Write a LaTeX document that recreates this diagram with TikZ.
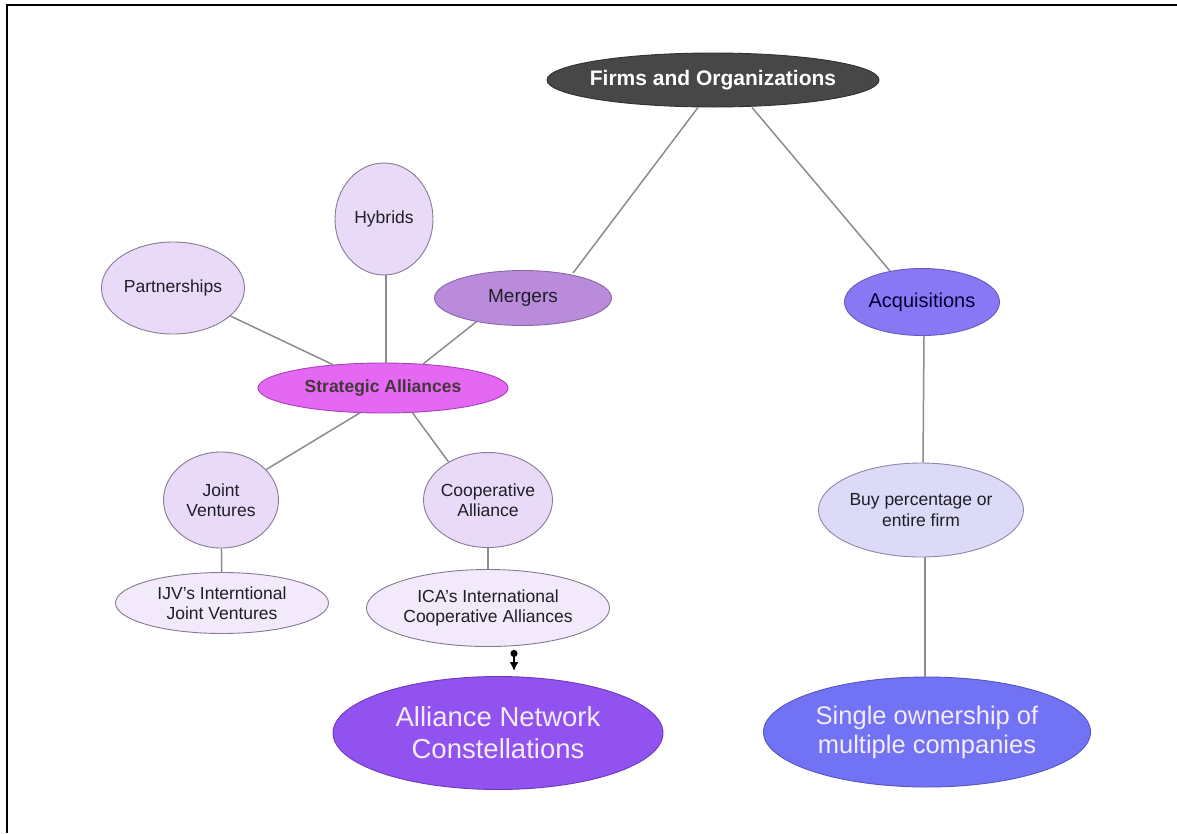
\documentclass[tikz,border=0pt]{standalone}
\usepackage{fontspec}
\setmainfont{Liberation Sans}
\usetikzlibrary{shapes.geometric,arrows.meta}
\definecolor{firmfill}{HTML}{474747}
\definecolor{firmdraw}{HTML}{303030}
\definecolor{lavfill}{HTML}{E9DBF7}
\definecolor{palefill}{HTML}{F2E9FA}
\definecolor{lavdraw}{HTML}{857A92}
\definecolor{mergfill}{HTML}{B98BDA}
\definecolor{mergdraw}{HTML}{8A66A8}
\definecolor{stratfill}{HTML}{E468F2}
\definecolor{stratdraw}{HTML}{A443B4}
\definecolor{acqfill}{HTML}{8878F4}
\definecolor{acqdraw}{HTML}{6658C0}
\definecolor{ancfill}{HTML}{9152EF}
\definecolor{ancdraw}{HTML}{6E38C0}
\definecolor{singlefill}{HTML}{7272F4}
\definecolor{singledraw}{HTML}{5555C0}
\definecolor{buyfill}{HTML}{DCDAF7}
\definecolor{buydraw}{HTML}{8A88A8}
\definecolor{edgegray}{HTML}{8C8C8C}
\definecolor{labeltext}{HTML}{1E1E28}
\definecolor{lighttext}{HTML}{F3ECFB}
\begin{document}
\begin{tikzpicture}[x=1pt,y=-1pt,
  bub/.style={ellipse, inner xsep=-40pt, inner ysep=-20pt, align=center,
    line width=0.9pt, text=labeltext, font=\fontsize{17.5}{20.5}\selectfont},
  lav/.style={bub, fill=lavfill, draw=lavdraw},
  pale/.style={bub, fill=palefill, draw=lavdraw},
  link/.style={draw=edgegray, line width=1.5pt}]
\useasboundingbox (0,0) rectangle (1177,833);
\draw[line width=2.5pt] (7,833) -- (7,5) -- (1177,5);

\node[bub, fill=firmfill, draw=firmdraw, minimum width=332pt, minimum height=54pt,
  text=white, font=\bfseries\fontsize{21}{24}\selectfont] (firms) at (713,80) {Firms and Organizations};
\node[lav, minimum width=98pt, minimum height=112pt] (hybrids) at (384,219) {Hybrids};
\node[lav, minimum width=143pt, minimum height=92pt] (partner) at (173,288) {Partnerships};
\node[bub, fill=mergfill, draw=mergdraw, minimum width=177pt, minimum height=55pt,
  font=\fontsize{19}{22}\selectfont] (mergers) at (523,298) {Mergers};
\node[bub, fill=stratfill, draw=stratdraw, minimum width=250pt, minimum height=50pt,
  text=black!85!magenta, font=\bfseries\fontsize{17.5}{20.5}\selectfont] (strat) at (383,388) {Strategic Alliances};
\node[lav, minimum width=115pt, minimum height=96pt] (jv) at (221,500) {Joint\\Ventures};
\node[lav, minimum width=129pt, minimum height=95pt] (coop) at (488,500) {Cooperative\\Alliance};
\node[pale, minimum width=213pt, minimum height=61pt] (ijv) at (222,603) {IJV’s Interntional\\Joint Ventures};
\node[pale, minimum width=243pt, minimum height=77pt] (ica) at (488,608) {ICA’s International\\Cooperative Alliances};
\node[bub, fill=ancfill, draw=ancdraw, minimum width=330pt, minimum height=113pt,
  text=lighttext, font=\fontsize{27.5}{32}\selectfont] (anc) at (498,733) {Alliance Network\\Constellations};
\node[bub, fill=acqfill, draw=acqdraw, minimum width=155pt, minimum height=67pt,
  text=black!80!blue, font=\fontsize{20}{23}\selectfont] (acq) at (922,302) {Acquisitions};
\node[bub, fill=buyfill, draw=buydraw, minimum width=205pt, minimum height=94pt] (buy) at (921,510) {Buy percentage or\\entire firm};
\node[bub, fill=singlefill, draw=singledraw, minimum width=327pt, minimum height=110pt,
  text=lighttext, font=\fontsize{25.5}{29}\selectfont] (single) at (927,732) {Single ownership of\\multiple companies};

\path[link] ([xshift=-15pt]firms.south) -- ([xshift=50pt,yshift=-3pt]mergers.north);
\path[link] ([xshift=39pt]firms.south) -- ([xshift=-32pt,yshift=-3pt]acq.north);
\path[link] (mergers.207) -- (strat.31);
\path[link] (partner.334) -- (strat.155);
\path[link] ([xshift=2pt]hybrids.south) -- ([xshift=3pt]strat.north);
\path[link] (strat.227) -- (jv.34);
\path[link] (strat.320) -- (coop.136);
\path[link] (jv) -- (ijv);
\path[link] (coop) -- (ica);
\path[link] ([xshift=2pt]acq.south) -- ([xshift=2pt]buy.north);
\path[link] ([xshift=4pt]buy.south) -- ([xshift=-2pt]single.north);
\draw[line width=2pt, {Circle[length=7pt]}-{Latex[length=9pt,width=9pt]}]
  ([xshift=26pt,yshift=-3pt]ica.south) -- ([xshift=16pt,yshift=5pt]anc.north);
\end{tikzpicture}
\end{document}
